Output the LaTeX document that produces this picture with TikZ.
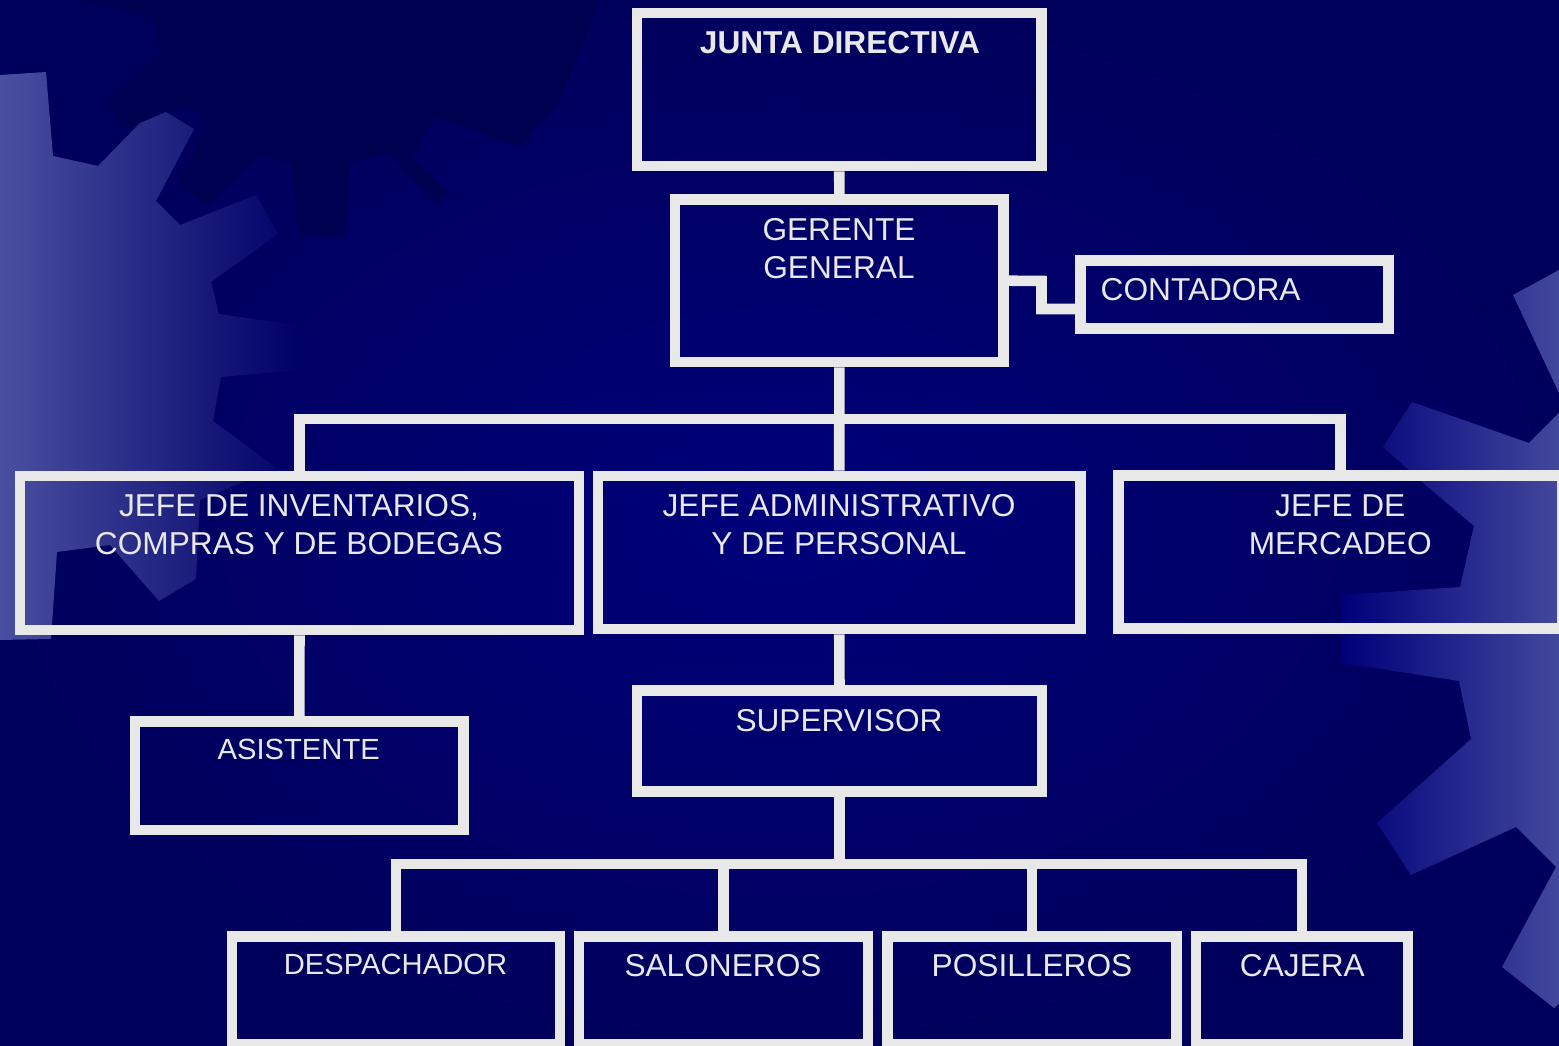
\documentclass[tikz,border=0pt]{standalone}
\usepackage{fontspec}
\setmainfont{Liberation Sans}

\definecolor{navybg}{RGB}{0,0,122}
\definecolor{navydark}{RGB}{0,0,92}
\definecolor{navygear}{RGB}{0,0,80}
\definecolor{gearlight}{RGB}{74,80,160}
\definecolor{framegray}{RGB}{232,232,232}

\tikzset{
  box/.style={draw=framegray, line width=3pt, inner sep=0pt},
  link/.style={draw=framegray, line width=3pt},
  lbl/.style={text=framegray, anchor=base, align=center, inner sep=0pt, font=\fontsize{9}{10.9}\selectfont},
  lblbold/.style={lbl, font=\bfseries\fontsize{9}{10.9}\selectfont},
  lblsmall/.style={lbl, font=\fontsize{8.3}{10}\selectfont}
}

\begin{document}
\begin{tikzpicture}[x=0.01cm, y=-0.01cm]
    \useasboundingbox (0,0) rectangle (1559,1046);
    \clip (0,0) rectangle (1559,1046);

    % background and gears
    \shade[inner color=navybg, outer color=navydark] (0,0) rectangle (1559,1046);
    \fill[navygear] (82,0) -- (153,18) -- (160,52) -- (107,101) -- (127,130) -- (187,103) -- (208,126)
        -- (178,182) -- (207,205) -- (260,154) -- (292,164) -- (298,235) -- (344,237) -- (350,163)
        -- (388,153) -- (437,203) -- (450,193) -- (411,159) -- (435,117) -- (520,147) -- (560,100) -- (600,0) -- cycle;
    \shade[left color=gearlight, right color=navybg!85!black] (0,75) -- (46,72) -- (53,156) -- (98,166) -- (140,123)
        -- (166,112) -- (194,129) -- (156,201) -- (180,225) -- (256,195) -- (278,234) -- (211,282)
        -- (219,314) -- (302,326) -- (302,370) -- (221,377) -- (213,421) -- (277,468) -- (200,500)
        -- (196,579) -- (159,601) -- (110,545) -- (57,552) -- (51,639) -- (0,640) -- cycle;
    \shade[left color=navybg, right color=gearlight!90!navybg] (1559,270) -- (1513,295) -- (1559,393) -- cycle
        (1559,413) -- (1529,443) -- (1412,402) -- (1383,447) -- (1422,482) -- (1474,526) -- (1460,587)
        -- (1342,595) -- (1342,663) -- (1459,681) -- (1471,739) -- (1377,823) -- (1411,875) -- (1516,827)
        -- (1556,867) -- (1502,967) -- (1554,1008) -- (1559,1004) -- cycle;

    % boxes
    \node[box, minimum width=4.045cm, minimum height=1.53cm] (junta) at (839.25,89.5) {};
    \node[box, minimum width=3.28cm, minimum height=1.627cm] (gerente) at (839.3,280.7) {};
    \node[box, minimum width=3.08cm, minimum height=0.68cm] (contadora) at (1234.5,294.5) {};
    \node[box, minimum width=5.59cm, minimum height=1.54cm] (jefeinv) at (299.5,553) {};
    \node[box, minimum width=4.825cm, minimum height=1.53cm] (jefeadm) at (839.25,552.5) {};
    \node[box, minimum width=4.433cm, minimum height=1.534cm] (jefemer) at (1340.3,552) {};
    \node[box, minimum width=3.28cm, minimum height=1.087cm] (asistente) at (299.3,775.7) {};
    \node[box, minimum width=4.05cm, minimum height=1.01cm] (supervisor) at (839.5,741) {};
    \node[box, minimum width=3.28cm, minimum height=1.08cm] (despachador) at (396,990.5) {};
    \node[box, minimum width=2.89cm, minimum height=1.08cm] (saloneros) at (723.5,990.5) {};
    \node[box, minimum width=2.89cm, minimum height=1.08cm] (posilleros) at (1032.1,990.5) {};
    \node[box, minimum width=2.12cm, minimum height=1.08cm] (cajera) at (1302,990.5) {};

    % connectors
    \coordinate (k1) at (1041.5,281);
    \coordinate (k2) at (1041.5,309);
    \coordinate (busa) at (839,419);
    \coordinate (busb) at (839.5,864);

    \draw[link] (junta.south) -- (gerente.north);
    \draw[link] (gerente.east) -- (k1) -- (k2) -- (contadora.west |- k2);
    \draw[link] (gerente.south) -- (jefeadm.north);
    \draw[link] (jefeinv.north) |- (busa) -| (jefemer.north);
    \draw[link] (jefeinv.south) -- (asistente.north);
    \draw[link] (jefeadm.south) -- (supervisor.north);
    \draw[link] (supervisor.south) -- (supervisor.south |- busb);
    \draw[link] (despachador.north) |- (busb) -| (cajera.north);
    \foreach \n in {saloneros,posilleros} \draw[link] (\n.north) -- (\n.north |- busb);

    % labels (multi-line ones sit on their last baseline)
    \node[lblbold] (tjunta) at (840,54) {JUNTA DIRECTIVA};
    \node[lbl] (tgerente) at (839,278.7) {GERENTE\\GENERAL};
    \node[lbl, anchor=base west] (tcontadora) at (1100,301) {CONTADORA};
    \node[lbl] (tjefeinv) at (299,554.5) {JEFE DE INVENTARIOS,\\COMPRAS Y DE BODEGAS};
    \node[lbl] (tjefeadm) at (839,554.5) {JEFE ADMINISTRATIVO\\Y DE PERSONAL};
    \node[lbl] (tjefemer) at (1340.3,554.5) {JEFE DE\\MERCADEO};
    \node[lblsmall] (tasistente) at (298.7,760) {ASISTENTE};
    \node[lbl] (tsupervisor) at (839,731.7) {SUPERVISOR};
    \node[lblsmall] (tdespachador) at (395.5,975) {DESPACHADOR};
    \node[lbl] (tsaloneros) at (723,976.7) {SALONEROS};
    \node[lbl] (tposilleros) at (1032,976.7) {POSILLEROS};
    \node[lbl] (tcajera) at (1302.4,976.7) {CAJERA};
\end{tikzpicture}
\end{document}
